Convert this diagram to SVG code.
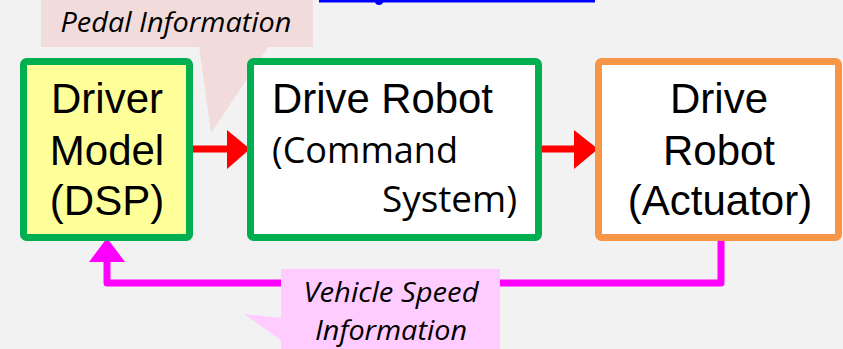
<svg xmlns="http://www.w3.org/2000/svg" width="843" height="349" viewBox="0 0 843 349">
<style>
.box{stroke-width:7}
.lbl{font-family:"Liberation Sans",Arial,sans-serif;font-size:42px;fill:#000}
.hum{font-family:"Open Sans","Noto Sans",sans-serif;font-size:37px;fill:#000}
.call{font-family:"Open Sans","Liberation Sans",sans-serif;font-style:italic;font-size:27px;fill:#000}
</style>
<rect width="843" height="349" fill="#f2f2f2"/>
<g id="link-fragment">
<rect x="319" y="0" width="276" height="2.5" fill="#0000ff"/>
<circle cx="379" cy="1" r="4" fill="#0000ff"/>
</g>
<g id="connectors">
<rect x="190" y="145.5" width="38" height="7" fill="#ff0000"/>
<polygon points="227,130 250,149 227,169" fill="#ff0000"/>
<rect x="542" y="145.5" width="33" height="7" fill="#ff0000"/>
<polygon points="574,130 598,149 574,169" fill="#ff0000"/>
<polyline points="721,241 721,283 107,283 107,262" fill="none" stroke="#ff00ff" stroke-width="7" stroke-linejoin="round"/>
<polygon points="89,262 107,238 125,262" fill="#ff00ff"/>
</g>
<g id="pedal-callout">
<rect x="41" y="0" width="272" height="47" fill="#f2dcdb"/>
<polygon points="199,46 269,46 211,133" fill="#f2dcdb"/>
<text class="call" x="176" y="32" text-anchor="middle" textLength="231" lengthAdjust="spacingAndGlyphs">Pedal Information</text>
</g>
<g id="driver-model">
<rect class="box" x="23.5" y="61.5" width="166" height="176" rx="3" fill="#ffff99" stroke="#00b050"/>
<text class="lbl" text-anchor="middle"><tspan x="107" y="113">Driver</tspan><tspan x="107" y="165">Model</tspan><tspan x="107" y="215">(DSP)</tspan></text>
</g>
<g id="command-system">
<rect class="box" x="250.5" y="61.5" width="288" height="176" rx="3" fill="#ffffff" stroke="#00b050"/>
<text class="lbl" x="272" y="113" textLength="221" lengthAdjust="spacingAndGlyphs">Drive Robot</text>
<text class="hum" x="272" y="163" textLength="186" lengthAdjust="spacingAndGlyphs">(Command</text>
<text class="hum" x="382" y="212" textLength="135" lengthAdjust="spacingAndGlyphs">System)</text>
</g>
<g id="actuator">
<rect class="box" x="598.5" y="61.5" width="240" height="176" rx="3" fill="#ffffff" stroke="#f79646"/>
<text class="lbl" text-anchor="middle"><tspan x="719" y="113">Drive</tspan><tspan x="719" y="165">Robot</tspan><tspan x="720" y="215">(Actuator)</tspan></text>
</g>
<g id="speed-callout">
<rect x="281" y="269" width="219" height="80" fill="#ffccff"/>
<polygon points="244,314 282,318 282,341" fill="#ffccff"/>
<text class="call" text-anchor="middle"><tspan x="391" y="302" textLength="175" lengthAdjust="spacingAndGlyphs">Vehicle Speed</tspan><tspan x="391" y="340" textLength="152" lengthAdjust="spacingAndGlyphs">Information</tspan></text>
</g>
</svg>
